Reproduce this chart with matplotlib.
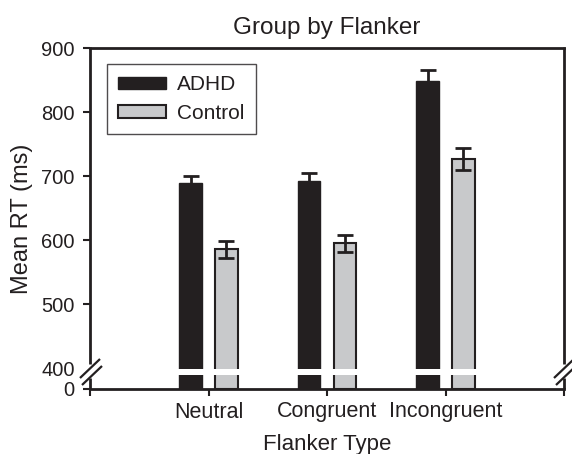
import numpy as np
import matplotlib
matplotlib.use('Agg')
import matplotlib.pyplot as plt
from matplotlib.patches import Patch

plt.rcParams['font.family'] = ['Liberation Sans', 'DejaVu Sans']

# data
categories = ['Neutral', 'Congruent', 'Incongruent']
groups = ['ADHD', 'Control']
adhd_mean = [689, 692, 849]
adhd_se = [12, 13, 17]
control_mean = [586, 595, 727]
control_se = [13, 13, 17]
yticks = [0, 400, 500, 600, 700, 800, 900]

ADHD_COL = '#231f20'
CTRL_COL = '#c8c9cb'
EDGE = '#231f20'

# broken axis: 0..400 squeezed into a short stub below 400
BREAK_LO = 368.0


def fwd(v):
    v = np.asarray(v, dtype=float)
    return np.where(v >= 400, v, BREAK_LO + v * (400 - BREAK_LO) / 400)


def inv(y):
    y = np.asarray(y, dtype=float)
    return np.where(y >= 400, y, (y - BREAK_LO) * 400 / (400 - BREAK_LO))


W, H = 572, 454
fig = plt.figure(figsize=(W / 100, H / 100), dpi=100)
L, R, T, B = 90, 564, 48, 389
ax = fig.add_axes([L / W, 1 - B / H, (R - L) / W, (B - T) / H])
ax.set_yscale('function', functions=(fwd, inv))
ax.set_ylim(0, 900)
ax.set_xlim(0, 4)

x = np.arange(1, len(categories) + 1)
width = 0.19
off = 0.15
err_kw = dict(ecolor=EDGE, elinewidth=2, capsize=5.5, capthick=2)
ax.bar(x - off, adhd_mean, width, yerr=adhd_se, color=ADHD_COL,
       edgecolor=EDGE, linewidth=1, error_kw=err_kw, zorder=2)
ax.bar(x + off, control_mean, width, yerr=control_se, color=CTRL_COL,
       edgecolor=EDGE, linewidth=1.5, error_kw=err_kw, zorder=2)

# white gap across the bars at the break
ax.axhspan(275, 390, color='white', zorder=3, lw=0)

for s in ['left', 'right']:
    ax.spines[s].set_visible(False)
ax.spines['top'].set_linewidth(2)
ax.spines['bottom'].set_linewidth(2)
ax.spines['top'].set_color(EDGE)
ax.spines['bottom'].set_color(EDGE)

ax.set_yticks(yticks)
ax.set_yticklabels([str(t) for t in yticks])
ax.set_xticks([0, 1, 2, 3, 4])
ax.set_xticklabels([''] + categories + [''])
ax.tick_params(axis='both', direction='out', length=5, width=1.5,
               color=EDGE, labelcolor=EDGE)
ax.tick_params(axis='x', pad=4, labelsize=15.5)
ax.tick_params(axis='y', pad=6, labelsize=14.5)
ax.yaxis.get_major_ticks()[1].tick1line.set_visible(False)


def ax_pt(px, py):
    return (px - L) / (R - L), (B - py) / (B - T)


def seg(p0, p1, lw=2):
    a = ax_pt(*p0)
    b = ax_pt(*p1)
    ax.plot([a[0], b[0]], [a[1], b[1]], transform=ax.transAxes, color=EDGE,
            lw=lw, clip_on=False, zorder=5, solid_capstyle='butt')


# broken side spines with double slashes
for sx in (L, R):
    seg((sx, T - 1), (sx, 364))
    seg((sx, 378), (sx, B))
    seg((sx - 10, 378), (sx + 10, 359), lw=1.6)
    seg((sx - 8, 385), (sx + 12, 366), lw=1.6)

ax.set_title('Group by Flanker', fontsize=17.5, color=EDGE, pad=10)
ax.set_xlabel('Flanker Type', fontsize=16, color=EDGE, labelpad=8)
ax.set_ylabel('Mean RT (ms)', fontsize=17, color=EDGE, labelpad=6)

handles = [Patch(facecolor=ADHD_COL, edgecolor=EDGE, lw=1),
           Patch(facecolor=CTRL_COL, edgecolor=EDGE, lw=1.5)]
leg = ax.legend(handles, groups, loc='upper left', bbox_to_anchor=ax_pt(107, 64),
                fontsize=15, frameon=True, fancybox=False, borderaxespad=0,
                handlelength=2.3, handleheight=0.55, handletextpad=0.5,
                labelspacing=0.45, borderpad=0.55)
leg.get_frame().set_edgecolor(EDGE)
leg.get_frame().set_linewidth(1)
for t in leg.get_texts():
    t.set_color(EDGE)

fig.savefig('out.png', dpi=100)
